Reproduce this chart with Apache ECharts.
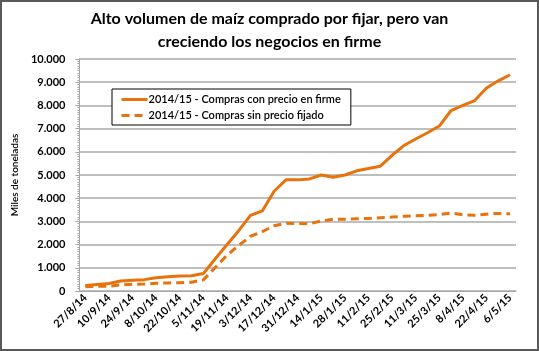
<!DOCTYPE html>
<html>
<head>
<meta charset="utf-8">
<script src="https://cdn.jsdelivr.net/npm/echarts@6/dist/echarts.min.js"></script>
<style>
  html, body { margin: 0; padding: 0; background: #fff; }
  #main { width: 539px; height: 351px; box-sizing: border-box; border: 2px solid #595959; }
</style>
</head>
<body>
<div id="main"></div>
<script>
// fechas semanales (etiqueta cada dos semanas)
const fechas = [
  '27/8/14','3/9/14','10/9/14','17/9/14','24/9/14','1/10/14','8/10/14','15/10/14','22/10/14','29/10/14',
  '5/11/14','12/11/14','19/11/14','26/11/14','3/12/14','10/12/14','17/12/14','24/12/14','31/12/14','7/1/15',
  '14/1/15','21/1/15','28/1/15','4/2/15','11/2/15','18/2/15','25/2/15','4/3/15','11/3/15','18/3/15',
  '25/3/15','1/4/15','8/4/15','15/4/15','22/4/15','29/4/15','6/5/15'
];

// miles de toneladas
const conPrecioFirme = [
  240, 280, 320, 430, 460, 490, 570, 610, 650, 660,
  750, 1380, 1990, 2600, 3260, 3450, 4300, 4790, 4790, 4830,
  5000, 4900, 5000, 5180, 5280, 5380, 5850, 6270, 6550, 6820,
  7110, 7780, 8000, 8210, 8750, 9060, 9320
];
const sinPrecioFijado = [
  180, 200, 210, 260, 290, 300, 330, 350, 360, 380,
  480, 1000, 1540, 1960, 2360, 2560, 2810, 2920, 2910, 2900,
  3020, 3090, 3090, 3110, 3130, 3160, 3190, 3220, 3240, 3260,
  3290, 3360, 3280, 3260, 3310, 3340, 3330
];

const naranja = '#e8720c';
const fmt = v => v.toString().replace(/\B(?=(\d{3})+(?!\d))/g, '.');

const chart = echarts.init(document.getElementById('main'));
chart.setOption({
  animation: false,
  textStyle: { fontFamily: 'Lato' },
  title: {
    text: 'Alto volumen de maíz comprado por fijar, pero van\ncreciendo los negocios en firme',
    left: 'center',
    top: 0,
    textStyle: { fontSize: 16, fontWeight: 'bold', color: '#000', lineHeight: 23, fontFamily: 'Lato' }
  },
  legend: {
    orient: 'vertical',
    left: 110,
    top: 87,
    padding: [5, 10, 4, 8],
    itemGap: 5,
    itemWidth: 26,
    itemHeight: 10,
    borderColor: '#000',
    borderWidth: 1,
    backgroundColor: '#fff',
    itemStyle: { opacity: 0 },
    lineStyle: { width: 3 },
    textStyle: { fontSize: 11, fontWeight: 600, color: '#000', fontFamily: 'Lato', padding: [0, 0, 0, -4] },
    data: ['2014/15 - Compras con precio en firme', '2014/15 - Compras sin precio fijado']
  },
  grid: { left: 71, right: 21, top: 57, bottom: 58 },
  xAxis: {
    type: 'category',
    data: fechas,
    boundaryGap: true,
    axisLine: { lineStyle: { color: '#a6a6a6', width: 1 } },
    axisTick: { interval: 0, length: 4, lineStyle: { color: '#a6a6a6' } },
    axisLabel: {
      interval: 1,
      rotate: 45,
      fontSize: 11,
      fontWeight: 'bold',
      color: '#000',
      margin: 5
    }
  },
  yAxis: {
    type: 'value',
    min: 0,
    max: 10000,
    interval: 1000,
    name: 'Miles de toneladas',
    nameLocation: 'middle',
    nameGap: 54,
    nameTextStyle: { fontSize: 10, fontWeight: 600, color: '#000' },
    axisLine: { show: true, lineStyle: { color: '#a6a6a6' } },
    axisTick: { show: true, length: 4, lineStyle: { color: '#a6a6a6' } },
    minorTick: { show: true, splitNumber: 10, length: 2, lineStyle: { color: '#a6a6a6' } },
    splitLine: { lineStyle: { color: '#bfbfbf', width: 2 } },
    axisLabel: {
      fontSize: 11,
      fontWeight: 'bold',
      color: '#000',
      margin: 14,
      formatter: fmt
    }
  },
  series: [
    {
      name: '2014/15 - Compras con precio en firme',
      type: 'line',
      data: conPrecioFirme,
      symbol: 'none',
      lineStyle: { color: naranja, width: 3 },
      itemStyle: { color: naranja }
    },
    {
      name: '2014/15 - Compras sin precio fijado',
      type: 'line',
      data: sinPrecioFijado,
      symbol: 'none',
      lineStyle: { color: naranja, width: 3, type: [8, 5] },
      itemStyle: { color: naranja }
    }
  ]
});
</script>
</body>
</html>
